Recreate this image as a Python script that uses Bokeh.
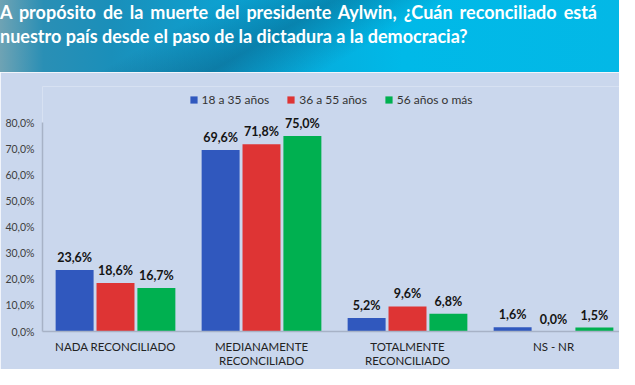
import numpy as np
from bokeh.plotting import figure
from bokeh.models import Range1d, FixedTicker, Legend, LegendItem, ColumnDataSource, Div
from bokeh.layouts import column
from bokeh.core.properties import value
from bokeh.embed import file_html
from bokeh.resources import INLINE

# ---- data ----
categories = ["NADA RECONCILIADO", "MEDIANAMENTE\nRECONCILIADO", "TOTALMENTE\nRECONCILIADO", "NS - NR"]
series_names = ["18 a 35 años", "36 a 55 años", "56 años o más"]
vals_18_35 = [23.6, 69.6, 5.2, 1.6]
vals_36_55 = [18.6, 71.8, 9.6, 0.0]
vals_56_mas = [16.7, 75.0, 6.8, 1.5]
y_ticks = [0, 10, 20, 30, 40, 50, 60, 70, 80]
y_tick_labels = ["0,0%", "10,0%", "20,0%", "30,0%", "40,0%", "50,0%", "60,0%", "70,0%", "80,0%"]
title_line1 = "A propósito de la muerte del presidente Aylwin, ¿Cuán reconciliado está"
title_line2 = "nuestro país desde el paso de la dictadura a la democracia?"

colors = ["#3058be", "#de3434", "#00b050"]
W = 619
HH = 72
CH = 297

# ---- header (HTML block with gradient) ----
html = (
    '<div style="width:597px;text-align:justify;text-align-last:justify;">' + title_line1 + '</div>'
    '<div style="text-align:left;">' + title_line2 + '</div>'
)
hdr = Div(text=html, width=W, height=HH, margin=0,
          styles={
              "background": "linear-gradient(150deg, rgba(0,0,0,0) 0%, rgba(0,0,0,0) 30%, rgba(10,40,70,0.30) 45%, rgba(0,0,0,0) 60%), "
                            "linear-gradient(90deg, #6fa3b4 0%, #2a8fb5 7%, #1a8fba 18%, #0aa5d6 40%, #00b9e8 65%, #03b8e6 100%)",
              "color": "white",
              "font-family": "Lato",
              "font-weight": "bold",
              "font-size": "18px",
              "line-height": "24px",
              "padding": "0px",
              "box-sizing": "border-box",
              "overflow": "hidden",
          })

# ---- chart ----
n = len(categories)
idx = np.arange(n)
p = figure(width=W, height=CH, output_backend="svg", toolbar_location=None,
           x_range=Range1d(-0.5, 3.452), y_range=Range1d(0, 94),
           min_border_left=42, min_border_right=0, min_border_top=14, min_border_bottom=30)
p.background_fill_color = "#cad7ed"
p.border_fill_color = "#cad7ed"
p.outline_line_color = None
p.grid.visible = False

offsets = [-0.28, 0.0, 0.28]
all_vals = [vals_18_35, vals_36_55, vals_56_mas]
items = []
for name, vals, off, col in zip(series_names, all_vals, offsets, colors):
    src = ColumnDataSource(dict(x=idx + off, top=vals,
                                lab=[f"{v:.1f}%".replace(".", ",") for v in vals]))
    r = p.vbar(x="x", top="top", width=0.26, source=src, fill_color=col, line_color=None)
    p.text(x="x", y="top", text="lab", source=src, text_align="center", text_baseline="bottom",
           y_offset=-5, text_font=value("Lato"), text_font_style="bold", text_font_size="12.5px",
           text_color="#141414")
    items.append(LegendItem(label=name, renderers=[r]))

legend = Legend(items=items, orientation="horizontal", location="top_center",
                background_fill_alpha=0, border_line_color=None, padding=0, margin=6,
                spacing=17, glyph_width=9, glyph_height=9, label_standoff=4,
                label_text_font="Lato", label_text_font_size="12px", label_text_color="#333333",
                label_height=14)
p.add_layout(legend)

p.yaxis.ticker = FixedTicker(ticks=y_ticks)
p.yaxis.major_label_overrides = {tk: lb for tk, lb in zip(y_ticks, y_tick_labels)}
p.yaxis.bounds = (0, 80)
p.yaxis.axis_line_color = "#a7b2c6"
p.yaxis.axis_line_width = 1.5
p.yaxis.major_tick_line_color = None
p.yaxis.minor_tick_line_color = None
p.yaxis.major_tick_out = 0
p.yaxis.major_label_text_font = "Lato"
p.yaxis.major_label_text_font_size = "10.5px"
p.yaxis.major_label_text_color = "#404040"
p.yaxis.major_label_standoff = 8

p.xaxis.ticker = FixedTicker(ticks=list(idx))
p.xaxis.major_label_overrides = {int(i): c for i, c in zip(idx, categories)}
p.xaxis.axis_line_color = "#a7b2c6"
p.xaxis.axis_line_width = 1.5
p.xaxis.major_tick_line_color = None
p.xaxis.minor_tick_line_color = None
p.xaxis.major_tick_out = 0
p.xaxis.minor_tick_out = 0
p.xaxis.major_label_text_font = "Lato"
p.xaxis.major_label_text_font_size = "11.5px"
p.xaxis.major_label_text_line_height = 1.1
p.xaxis.major_label_text_color = "#222222"
p.xaxis.major_label_standoff = 8

layout = column(hdr, p, spacing=0)
open("out.html", "w").write(file_html(layout, INLINE))
